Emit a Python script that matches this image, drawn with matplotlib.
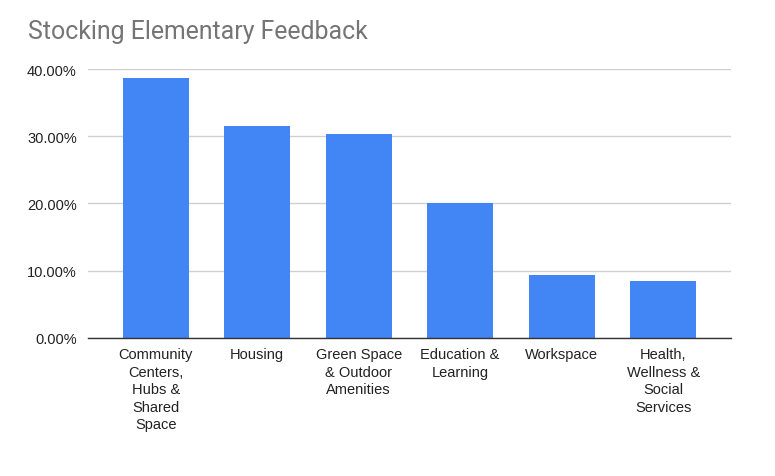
import matplotlib
matplotlib.use('Agg')
import matplotlib.pyplot as plt
from matplotlib.ticker import FuncFormatter

categories = [
    "Community\nCenters,\nHubs &\nShared\nSpace",
    "Housing",
    "Green Space\n& Outdoor\nAmenities",
    "Education &\nLearning",
    "Workspace",
    "Health,\nWellness &\nSocial\nServices",
]
values = [38.75, 31.5, 30.4, 20.0, 9.4, 8.4]
yticks = [0, 10, 20, 30, 40]

fig = plt.figure(figsize=(7.75, 4.77), dpi=100)
ax = fig.add_axes([0.1135, 0.29, 0.943 - 0.1135, 0.853 - 0.29])

x = list(range(len(categories)))
ax.bar(x, values, width=0.65, color="#4285F4", zorder=3)

ax.set_xlim(-0.667, len(categories) - 1 + 0.667)
ax.set_ylim(0, 40)
ax.set_yticks(yticks)
ax.yaxis.set_major_formatter(FuncFormatter(lambda v, p: f"{v:.2f}%"))
ax.grid(axis="y", color="#d0d0d0", linewidth=1, zorder=0)

for s in ["top", "right", "left"]:
    ax.spines[s].set_visible(False)
ax.spines["bottom"].set_color("#333333")
ax.spines["bottom"].set_linewidth(1)
ax.spines["bottom"].set_zorder(4)

ax.set_xticks(x)
ax.set_xticklabels(categories, fontfamily="Liberation Sans", fontsize=10.5,
                   color="#222222", linespacing=1.32, va="top")
ax.tick_params(axis="x", length=0, pad=7)
ax.tick_params(axis="y", length=0, pad=8, labelsize=10.5, labelcolor="#222222")
for lbl in ax.get_yticklabels():
    lbl.set_fontfamily("Liberation Sans")

fig.text(28 / 775, 1 - 32.5 / 477, "Stocking Elementary Feedback", fontfamily="Roboto",
         fontsize=17.9, color="#757575", ha="left", va="center")

fig.savefig("out.png", dpi=100)
